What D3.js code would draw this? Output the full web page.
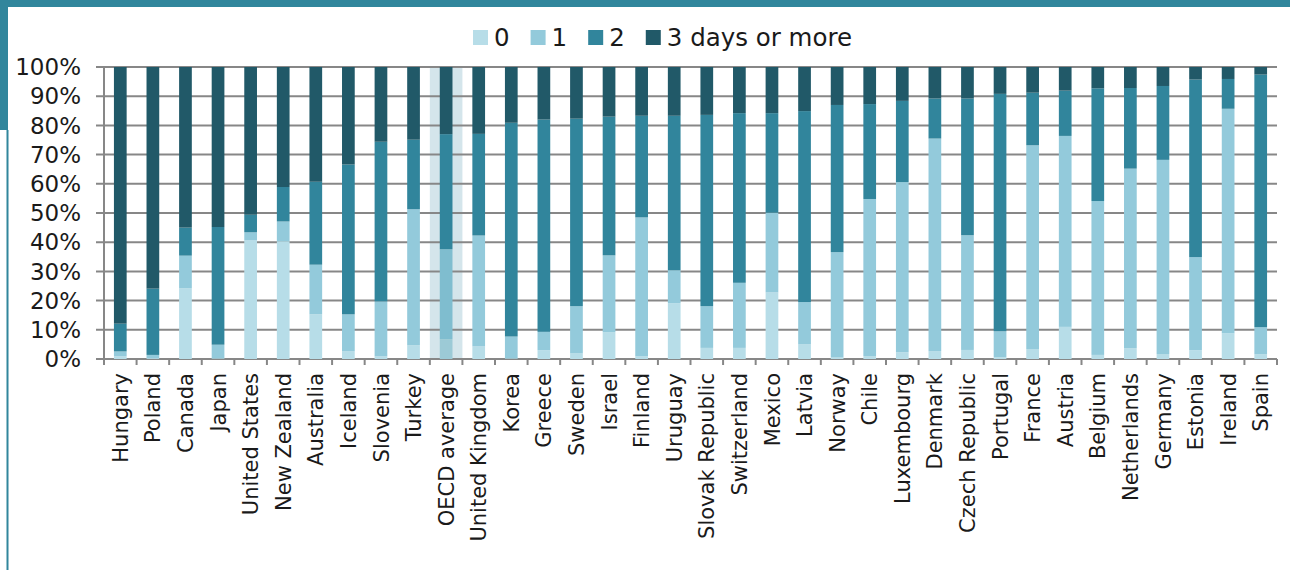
<!DOCTYPE html>
<html><head><meta charset="utf-8">
<script src="https://cdn.jsdelivr.net/npm/d3@7"></script>
<style>body{margin:0;background:#fff}svg{display:block}text{font-family:"DejaVu Sans",sans-serif;fill:#1a1a1a}</style>
</head><body><svg id="c" width="1290" height="570"></svg>
<script>
const categories = ["Hungary","Poland","Canada","Japan","United States","New Zealand","Australia","Iceland","Slovenia","Turkey","OECD average","United Kingdom","Korea","Greece","Sweden","Israel","Finland","Uruguay","Slovak Republic","Switzerland","Mexico","Latvia","Norway","Chile","Luxembourg","Denmark","Czech Republic","Portugal","France","Austria","Belgium","Netherlands","Germany","Estonia","Ireland","Spain"];
const seriesNames = ["0","1","2","3 days or more"];
// cumulative shares (%), converted below
const cum0 = [0.9,0.3,24.2,0.2,40.6,40.3,15.3,2.6,0.9,4.7,6.8,4.3,0.2,3.0,1.9,9.2,0.9,19.1,3.8,3.8,22.8,5.0,0.5,1.0,2.3,2.7,3.1,0.6,3.4,11.0,1.4,3.7,1.7,3.0,8.8,1.6];
const cum1 = [2.6,1.4,35.4,4.9,43.4,47.1,32.3,15.3,19.7,51.3,37.6,42.3,7.7,9.3,18.1,35.5,48.5,30.4,18.1,26.1,50.1,19.5,36.6,54.8,60.6,75.5,42.4,9.5,73.2,76.4,54.1,65.2,68.2,34.9,85.7,10.9];
const cum2 = [12.1,24.1,45.0,45.2,49.4,58.9,60.7,66.6,74.4,75.1,77.0,77.1,80.9,82.0,82.3,83.0,83.3,83.3,83.6,84.2,84.2,84.9,87.0,87.3,88.4,89.2,89.2,90.8,91.2,91.9,92.7,92.8,93.5,95.7,95.9,97.4];
const yTicks = [0,10,20,30,40,50,60,70,80,90,100];
const highlight = "OECD average";

const colors = ["#b7dde8","#93cadb","#31859c","#215968"];
const hiColors = ["#9ccad6","#7fbdcf","#31859c","#215968"];

const rows = categories.map((c,i)=>({cat:c, v:[cum0[i], cum1[i]-cum0[i], cum2[i]-cum1[i], 100-cum2[i]]}));
const stack = d3.stack().keys([0,1,2,3]).value((d,k)=>d.v[k])(rows);

const svg = d3.select("#c");
const L=104, R=1277, T=67, B=359;
const x = d3.scaleBand().domain(categories).range([L,R]).paddingInner(0.61).paddingOuter(0.305);
const y = d3.scaleLinear().domain([0,100]).range([B,T]);
const step = x.step();

// frame decoration
svg.append("rect").attr("x",0).attr("y",0).attr("width",1290).attr("height",7).attr("fill","#31869c");
svg.append("rect").attr("x",0).attr("y",0).attr("width",8).attr("height",130).attr("fill","#31869c");
svg.append("rect").attr("x",6.5).attr("y",130).attr("width",2).attr("height",440).attr("fill","#31869c");

// highlight band
svg.append("rect").attr("x",x(highlight)+x.bandwidth()/2-step/2).attr("y",T).attr("width",step).attr("height",B-T).attr("fill","#d4e5eb");

// gridlines
svg.append("g").selectAll("line").data(yTicks).join("line")
  .attr("x1",L-8).attr("x2",R).attr("y1",d=>y(d)).attr("y2",d=>y(d))
  .attr("stroke","#878787").attr("stroke-width",2);
// axis lines
svg.append("line").attr("x1",L).attr("x2",L).attr("y1",T).attr("y2",B).attr("stroke","#878787").attr("stroke-width",2);
const bounds = d3.range(categories.length+1).map(i=>L+i*step);
svg.append("g").selectAll("line").data(bounds).join("line")
  .attr("x1",d=>d).attr("x2",d=>d).attr("y1",B).attr("y2",B+6)
  .attr("stroke","#878787").attr("stroke-width",2);

// y labels
svg.append("g").selectAll("text").data(yTicks).join("text")
  .attr("x",81).attr("y",d=>y(d)).attr("dy","0.36em").attr("text-anchor","end")
  .style("font-size","23px").text(d=>d+"%");

// bars
svg.append("g").selectAll("g").data(stack).join("g")
  .each(function(s){
    d3.select(this).selectAll("rect").data(s).join("rect")
      .attr("x",d=>x(d.data.cat)).attr("width",x.bandwidth())
      .attr("y",d=>y(d[1])).attr("height",d=>Math.max(0,y(d[0])-y(d[1])))
      .attr("fill",d=>d.data.cat===highlight?hiColors[s.key]:colors[s.key]);
  });

// x labels
svg.append("g").selectAll("text").data(categories).join("text")
  .attr("transform",d=>`translate(${x(d)+x.bandwidth()/2},373) rotate(-90)`)
  .attr("dy","0.36em").attr("text-anchor","end").style("font-size","21px").text(d=>d);

// legend
const lg = svg.append("g");
let lx = 473;
seriesNames.forEach((n,i)=>{
  lg.append("rect").attr("x",lx).attr("y",30).attr("width",15).attr("height",15).attr("fill",colors[i]);
  const t = lg.append("text").attr("x",lx+21).attr("y",46).style("font-size","24.5px").text(n);
  lx += 21 + t.node().getComputedTextLength() + 21;
});
</script></body></html>
